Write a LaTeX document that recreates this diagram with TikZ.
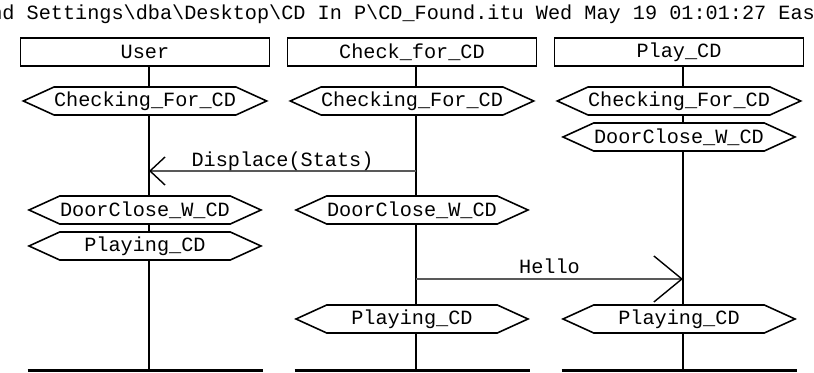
\documentclass[tikz,border=0pt]{standalone}
\usepackage{fontspec}
\setmainfont{Liberation Mono}
\usetikzlibrary{shapes.symbols,arrows.meta}

\tikzstyle{every node}=[font=\fontsize{11.5}{13}\selectfont]
\tikzstyle{object}=[draw, line width=1.1pt, minimum width=4.98cm,
                    minimum height=0.56cm, inner sep=0pt]
\tikzstyle{state}=[signal, signal to=west and east, signal pointer angle=49,
                   draw, fill=white, line width=0.9pt, minimum width=4.64cm,
                   minimum height=0.56cm, inner sep=0pt]
\tikzstyle{lifeline}=[line width=1.1pt]
\tikzstyle{msg}=[black!65, line width=0.6pt]

\begin{document}
\begin{tikzpicture}
  \useasboundingbox (0, 0) rectangle (16.28, 7.46);

  \begin{scope}
    \clip (0, 0) rectangle (16.28, 7.46);
    \node[anchor=base west, inner sep=0pt] (title) at (-0.20, 7.06)
      {nd Settings\textbackslash dba\textbackslash Desktop\textbackslash CD In P\textbackslash CD\_Found.itu Wed May 19 01:01:27 Eas};
  \end{scope}

  % objects
  \node[object] (user) at (2.90, 6.42) {User};
  \node[object] (check) at (8.24, 6.42) {Check\_for\_CD};
  \node[object] (play) at (13.58, 6.42) {Play\_CD};

  \coordinate (userend) at (2.98, 0.04);
  \coordinate (checkend) at (8.32, 0.04);
  \coordinate (playend) at (13.66, 0.04);

  \draw[lifeline] (user.south -| userend) -- (userend);
  \draw[lifeline] (check.south -| checkend) -- (checkend);
  \draw[lifeline] (play.south -| playend) -- (playend);

  \draw[line width=1.7pt] (0.55, 0.04) -- (5.25, 0.04);
  \draw[line width=1.7pt] (5.89, 0.04) -- (10.59, 0.04);
  \draw[line width=1.7pt] (11.23, 0.04) -- (15.93, 0.04);

  % states
  \node[state] (usercheck) at (2.90, 5.44) {Checking\_For\_CD};
  \node[state] (checkcheck) at (8.24, 5.44) {Checking\_For\_CD};
  \node[state] (playcheck) at (13.58, 5.44) {Checking\_For\_CD};
  \node[state] (playdoor) at (13.58, 4.72) {DoorClose\_W\_CD};
  \node[state] (userdoor) at (2.90, 3.26) {DoorClose\_W\_CD};
  \node[state] (checkdoor) at (8.24, 3.26) {DoorClose\_W\_CD};
  \node[state] (userplay) at (2.90, 2.54) {Playing\_CD};
  \node[state] (checkplay) at (8.24, 1.08) {Playing\_CD};
  \node[state] (playplay) at (13.58, 1.08) {Playing\_CD};

  % messages
  \coordinate (dispfrom) at (8.32, 4.04);
  \coordinate (dispto) at (2.98, 4.04);
  \coordinate (hellofrom) at (8.32, 1.88);
  \coordinate (helloto) at (13.66, 1.88);

  \draw[msg, -{Straight Barb[length=0.3cm, width=0.56cm, color=black, line width=0.8pt]}]
    (dispfrom) -- node[midway, anchor=base, yshift=0.08cm, text=black] (displabel) {Displace(Stats)} (dispto);
  \draw[msg, -{Straight Barb[length=0.56cm, width=0.92cm, color=black, line width=0.8pt]}]
    (hellofrom) -- node[midway, anchor=base, yshift=0.10cm, text=black] (hellolabel) {Hello} (helloto);
\end{tikzpicture}
\end{document}
